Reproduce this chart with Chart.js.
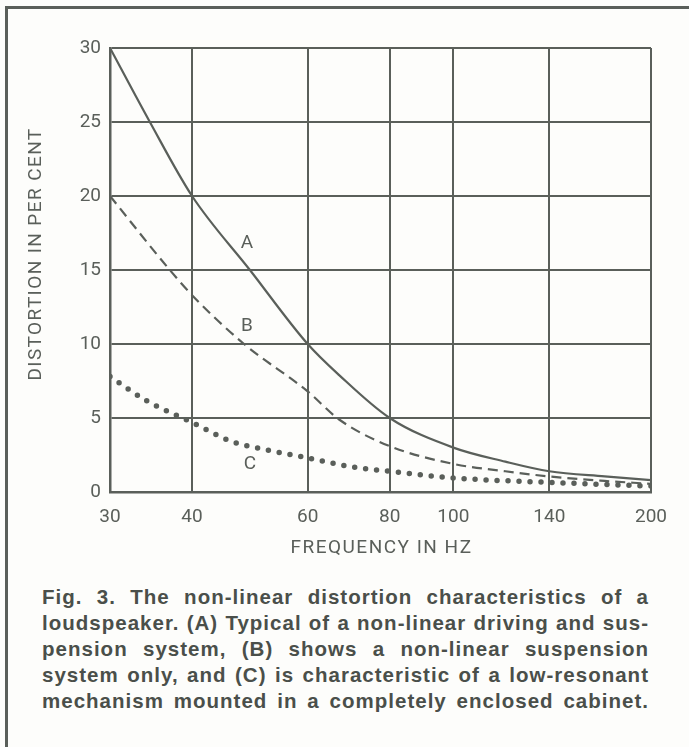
<!DOCTYPE html>
<html><head><meta charset="utf-8">
<script src="https://cdn.jsdelivr.net/npm/chart.js@4/dist/chart.umd.min.js"></script>
<style>
html,body{margin:0;padding:0;background:#fdfdfb;}
#page{position:relative;width:689px;height:747px;overflow:hidden;background:#fdfdfb;}
#frame{position:absolute;left:5px;top:6px;width:700px;height:760px;border-top:3px solid #5a5f5a;border-left:3px solid #5a5f5a;}
#wrap{position:absolute;left:0;top:0;width:689px;height:575px;}
#caption{position:absolute;left:42px;top:584px;width:607px;font-family:"Liberation Sans",Arial,sans-serif;font-weight:bold;font-size:20.5px;line-height:26px;color:#4a4f4a;}
#caption div{white-space:nowrap;height:26px;}
#caption span{display:inline-block;white-space:nowrap;}
</style></head>
<body><div id="page">
<div id="frame"></div>
<div id="wrap"><canvas id="c"></canvas></div>
<div id="caption"></div>
</div>
<script>
const captionLines = [
  'Fig. 3. The non-linear distortion characteristics of a',
  'loudspeaker. (A) Typical of a non-linear driving and sus-',
  'pension system, (B) shows a non-linear suspension',
  'system only, and (C) is characteristic of a low-resonant',
  'mechanism mounted in a completely enclosed cabinet.'
];
const xTicks = [30, 40, 60, 80, 100, 140, 200];
const yTicks = [0, 5, 10, 15, 20, 25, 30];
const freqA = [30, 34.5, 40, 49, 60, 67, 80, 100, 120, 140, 170, 200];
const distA = [30, 25, 20, 15, 10, 7.9, 5, 3.0, 2.05, 1.4, 1.05, 0.8];
const freqB = [30, 37, 40, 48, 60, 67, 80, 100, 120, 140, 170, 200];
const distB = [20, 15, 13.3, 10, 6.8, 4.9, 3.1, 1.9, 1.4, 1.05, 0.75, 0.55];
const freqC = [30, 34, 40, 46, 50, 60, 70, 80, 100, 140, 200];
const distC = [7.8, 6.2, 4.7, 3.4, 3.0, 2.3, 1.7, 1.4, 0.95, 0.65, 0.4];
const seriesNames = ['A', 'B', 'C'];
const labelFreq = [48.5, 48.5, 49];
const labelDist = [16.8, 11.2, 1.9];
const xTitle = 'FREQUENCY IN HZ';
const yTitle = 'DISTORTION IN PER CENT';

// caption: common letter spacing so the tightest line nearly fills, then justify each line
const W = 607;
const cap = document.getElementById('caption');
const spans = captionLines.map(t => {
  const d = document.createElement('div');
  const s = document.createElement('span');
  s.textContent = t;
  d.appendChild(s);
  cap.appendChild(d);
  return s;
});
let ls = 10;
spans.forEach((s, i) => {
  const t = captionLines[i];
  const w = s.getBoundingClientRect().width;
  const spaces = (t.match(/ /g) || []).length;
  const cand = (W - w - spaces * 0.5) / t.length;
  if (cand < ls) ls = cand;
});
spans.forEach((s, i) => {
  const t = captionLines[i];
  s.style.letterSpacing = ls + 'px';
  const w = s.getBoundingClientRect().width;
  const spaces = (t.match(/ /g) || []).length;
  if (spaces) s.style.wordSpacing = ((W - w) / spaces) + 'px';
});

const ink = '#5a5f5a';
const pts = (xs, ys) => xs.map((x, i) => ({x: x, y: ys[i]}));

const extras = {
  id: 'extras',
  afterDatasetsDraw(chart) {
    const {ctx, chartArea, scales: {x, y}} = chart;
    ctx.save();
    ctx.fillStyle = ink;
    ctx.font = '400 19px Roboto, sans-serif';
    ctx.textAlign = 'center';
    ctx.textBaseline = 'middle';
    seriesNames.forEach((n, i) => {
      ctx.fillText(n, x.getPixelForValue(labelFreq[i]), y.getPixelForValue(labelDist[i]));
    });
    try { ctx.letterSpacing = '1.5px'; } catch (e) {}
    ctx.fillText(xTitle, (chartArea.left + chartArea.right) / 2 + 1, chartArea.bottom + 56);
    ctx.save();
    ctx.translate(36, chartArea.top + 206);
    ctx.rotate(-Math.PI / 2);
    try { ctx.letterSpacing = '1.4px'; } catch (e) {}
    ctx.fillText(yTitle, 0, 0);
    ctx.restore();
    ctx.restore();
  }
};

new Chart(document.getElementById('c'), {
  type: 'line',
  data: {
    datasets: [
      {label: 'A', data: pts(freqA, distA), borderColor: ink, borderWidth: 2.2, pointRadius: 0, cubicInterpolationMode: 'monotone', fill: false},
      {label: 'B', data: pts(freqB, distB), borderColor: ink, borderWidth: 2.2, borderDash: [10, 6], pointRadius: 0, cubicInterpolationMode: 'monotone', fill: false},
      {label: 'C', data: pts(freqC, distC), borderColor: ink, borderWidth: 5.5, borderDash: [0, 11], borderCapStyle: 'round', pointRadius: 0, cubicInterpolationMode: 'monotone', fill: false}
    ]
  },
  options: {
    responsive: true,
    maintainAspectRatio: false,
    animation: false,
    events: [],
    layout: {padding: {left: 0, top: 48, right: 38, bottom: 0}},
    plugins: {legend: {display: false}, tooltip: {enabled: false}},
    scales: {
      x: {
        type: 'logarithmic', min: 30, max: 200,
        afterBuildTicks: s => { s.ticks = xTicks.map(v => ({value: v})); },
        afterFit: s => { s.height = 83; },
        ticks: {autoSkip: false, maxRotation: 0, padding: 14, color: ink, font: {family: 'Roboto', weight: 400, size: 19}, callback: v => String(v)},
        grid: {color: ink, lineWidth: 2, drawTicks: false},
        border: {color: ink, width: 2.5}
      },
      y: {
        min: 0, max: 30,
        afterBuildTicks: s => { s.ticks = yTicks.map(v => ({value: v})); },
        afterFit: s => { s.width = 110; },
        ticks: {padding: 9, color: ink, font: {family: 'Roboto', weight: 400, size: 19}},
        grid: {color: ink, lineWidth: 2, drawTicks: false},
        border: {color: ink, width: 2.5}
      }
    }
  },
  plugins: [extras]
});
</script>
</body></html>
